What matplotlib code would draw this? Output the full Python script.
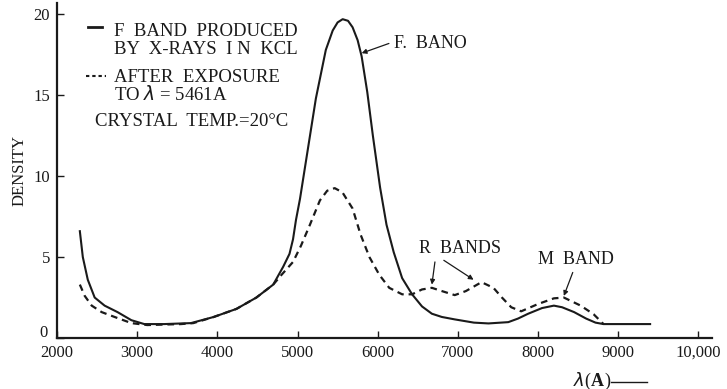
import matplotlib
matplotlib.use("Agg")
import matplotlib.pyplot as plt
import matplotlib.transforms as mtransforms

# ---- data ----
solid_wl = [2285, 2322, 2384, 2470, 2594, 2755, 2928, 3089, 3336, 3670, 3955, 4239,
            4487, 4697, 4821, 4900, 4944, 4981, 5031, 5130, 5229, 5353, 5439, 5500,
            5563, 5630, 5687, 5750, 5800, 5870, 5940, 6030, 6110, 6200, 6305, 6429,
            6553, 6676, 6800, 6961, 7200, 7382, 7629, 7750, 7877, 8050, 8198, 8300,
            8450, 8600, 8717, 8817, 9398]
solid_d = [6.6, 5.0, 3.6, 2.5, 2.0, 1.6, 1.1, 0.86, 0.86, 0.92, 1.3, 1.8,
           2.5, 3.3, 4.4, 5.2, 6.1, 7.3, 8.6, 11.7, 14.8, 17.8, 19.0, 19.5,
           19.7, 19.6, 19.2, 18.4, 17.4, 15.2, 12.5, 9.3, 7.0, 5.3, 3.7, 2.7,
           1.95, 1.5, 1.3, 1.15, 0.95, 0.9, 0.98, 1.2, 1.5, 1.85, 2.0, 1.9,
           1.6, 1.2, 0.95, 0.86, 0.86]

dash_wl = [2285, 2346, 2433, 2557, 2718, 2928, 3126, 3546, 3700, 3955, 4239, 4487,
           4697, 4800, 4944, 5043, 5155, 5279, 5370, 5464, 5560, 5687, 5786, 5897,
           6021, 6144, 6305, 6429, 6553, 6676, 6800, 6961, 7100, 7295, 7444, 7550,
           7666, 7790, 8000, 8198, 8322, 8532, 8693, 8817]
dash_d = [3.3, 2.6, 2.0, 1.6, 1.3, 0.92, 0.8, 0.86, 0.92, 1.3, 1.8, 2.5,
          3.3, 3.9, 4.7, 5.7, 7.0, 8.5, 9.1, 9.26, 9.0, 8.0, 6.4, 5.0,
          3.9, 3.1, 2.7, 2.7, 3.0, 3.1, 2.9, 2.65, 2.9, 3.45, 3.1, 2.5,
          1.9, 1.65, 2.1, 2.45, 2.5, 2.0, 1.47, 0.86]

x_ticks = [2000, 3000, 4000, 5000, 6000, 7000, 8000, 9000, 10000]
x_tick_labels = ["2000", "3000", "4000", "5000", "6000", "7000", "8000", "9000", "10,000"]
y_ticks = [0, 5, 10, 15, 20]
y_tick_labels = ["0", "5", "10", "15", "20"]

SERIF = ["Liberation Serif", "DejaVu Serif"]
plt.rcParams["font.family"] = SERIF

W, H = 727, 389
fig = plt.figure(figsize=(W / 100, H / 100), dpi=100)
fig.patch.set_facecolor("white")

def fx(px):
    return px / W

def fy(py):
    return 1 - py / H

ax = fig.add_axes([fx(57), fy(338), fx(712) - fx(57), fy(3) - fy(338)])
ax.set_xlim(2060, 10170)
ax.set_ylim(0.18, 20.7)

ink = "#1a1a1a"
ax.plot(solid_wl, solid_d, color=ink, lw=1.5, solid_joinstyle="round")
ax.plot(dash_wl, dash_d, color=ink, lw=1.6, dashes=(3.0, 2.2))

for s in ["top", "right"]:
    ax.spines[s].set_visible(False)
for s in ["left", "bottom"]:
    ax.spines[s].set_linewidth(1.6)
    ax.spines[s].set_color(ink)

ax.set_xticks(x_ticks)
ax.set_xticklabels(x_tick_labels, fontsize=12, color=ink)
ax.set_yticks(y_ticks)
ax.set_yticklabels(y_tick_labels, fontsize=12, color=ink)
ax.tick_params(axis="both", direction="in", length=5, width=1.0, color=ink)
ax.tick_params(axis="x", pad=5)
ax.tick_params(axis="y", pad=5)

# raise the "0" label a little, as in the original print
zero_lbl = ax.get_yticklabels()[0]
zero_lbl.set_transform(zero_lbl.get_transform() +
                       mtransforms.ScaledTranslation(-2 / 72, 5 / 72, fig.dpi_scale_trans))

# axis labels
fig.text(fx(20), fy(170), "DENSITY", rotation=90, ha="center", va="center",
         fontsize=12, color=ink)
fig.text(fx(573), fy(381), r"$\lambda$", ha="left", va="center", fontsize=13, color=ink)
fig.text(fx(584), fy(381), "(", ha="left", va="center", fontsize=13, color=ink)
fig.text(fx(591), fy(381), "A", ha="left", va="center", fontsize=13, color=ink,
         fontweight="bold")
fig.text(fx(604), fy(381), ")", ha="left", va="center", fontsize=13, color=ink)
fig.add_artist(plt.Line2D([fx(611), fx(647)], [fy(382), fy(382)], color=ink, lw=1.0))

# legend block
fig.add_artist(plt.Line2D([fx(88), fx(102)], [fy(27), fy(27)], color=ink, lw=2.0))
fig.text(fx(114), fy(32), "F  BAND  PRODUCED", ha="left", va="center", fontsize=13.5, color=ink)
fig.text(fx(114), fy(50), "BY  X-RAYS  I N  KCL", ha="left", va="center", fontsize=13.5, color=ink)
fig.add_artist(plt.Line2D([fx(86), fx(106)], [fy(76), fy(76)], color=ink, lw=1.5,
                          dashes=(1.6, 1.4)))
fig.text(fx(114), fy(77), "AFTER  EXPOSURE", ha="left", va="center", fontsize=13.5, color=ink)
fig.text(fx(114), fy(95), r"TO $\lambda$ = 5461A", ha="left", va="center", fontsize=13.5, color=ink)
fig.text(fx(95), fy(121), "CRYSTAL  TEMP.=20°C", ha="left", va="center", fontsize=13.5, color=ink)

arrow = dict(arrowstyle="-|>", color=ink, lw=0.9, mutation_scale=7, shrinkA=0, shrinkB=0)

ax.annotate("", xy=(5800, 17.6), xytext=(6140, 18.2), arrowprops=arrow)
ax.text(6200, 18.2, "F.  BANO", ha="left", va="center", fontsize=13, color=ink)

ax.text(6516, 5.5, "R  BANDS", ha="left", va="center", fontsize=13, color=ink)
ax.annotate("", xy=(6676, 3.3), xytext=(6714, 4.7), arrowprops=arrow)
ax.annotate("", xy=(7196, 3.6), xytext=(6825, 4.8), arrowprops=arrow)

ax.text(8000, 4.85, "M  BAND", ha="left", va="center", fontsize=13, color=ink)
ax.annotate("", xy=(8322, 2.6), xytext=(8433, 4.05), arrowprops=arrow)

fig.savefig("out.png", dpi=100, facecolor="white")
